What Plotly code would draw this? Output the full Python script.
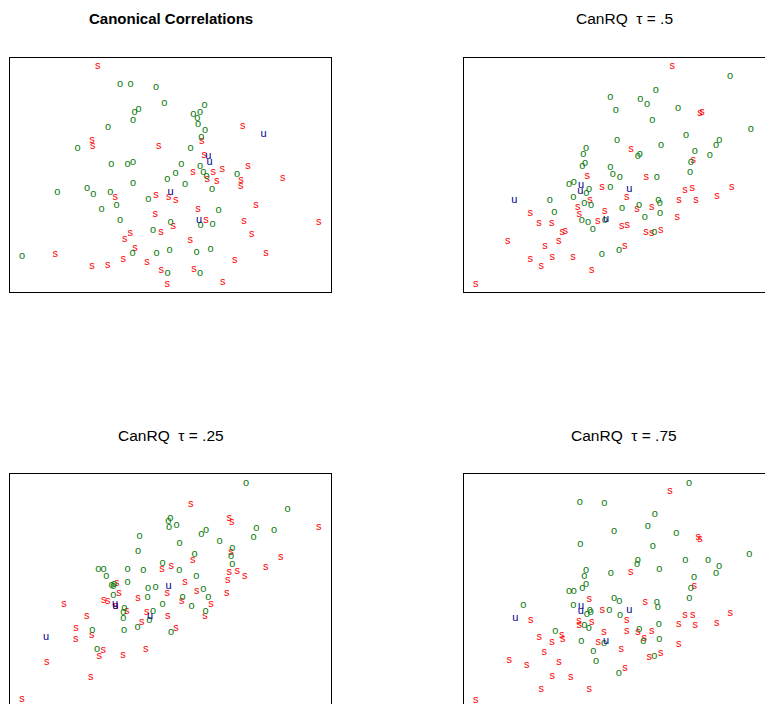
import plotly.graph_objects as go

# ---------------- data (canonical variate scores) ----------------
# Panel 1: Canonical Correlations
cc_s_x = [263, 698, 246, 248, 446, 575, 583, 714, 549, 610, 637, 818, 592, 620, 693, 692, 316, 438, 476, 497, 738, 564,
          436, 588, 490, 702, 926, 361, 344, 453, 725, 541, 375, 340, 136, 411, 768, 674, 246, 293, 454, 552, 472, 638]
cc_s_y = [677, 499, 456, 438, 439, 454, 411, 379, 359, 361, 368, 343, 339, 332, 336, 319, 284, 290, 286, 275, 261, 249,
          233, 215, 197, 212, 211, 176, 160, 179, 174, 155, 131, 100, 113, 90, 116, 95, 77, 80, 67, 68, 25, 29]
cc_o_x = [330, 362, 438, 463, 584, 386, 374, 550, 570, 562, 369, 564, 585, 294, 574, 203, 542, 353, 369, 304, 514, 570,
          580, 590, 497, 472, 681, 369, 525, 606, 142, 231, 250, 301, 415, 320, 275, 626, 330, 482, 572, 608, 429, 36,
          368, 440, 479, 560, 602, 473, 570]
cc_o_y = [623, 623, 614, 566, 560, 548, 539, 533, 539, 523, 515, 503, 485, 494, 466, 431, 431, 385, 389, 383, 383, 377,
          359, 347, 356, 338, 353, 326, 324, 308, 299, 311, 293, 299, 278, 260, 248, 246, 215, 210, 200, 203, 185, 107,
          116, 117, 125, 119, 128, 56, 56]
cc_u_x = [761, 595, 599, 482, 567]
cc_u_y = [475, 407, 391, 301, 217]

# Panel 2: CanRQ tau = .5
q50_s_x = [626, 709, 715, 502, 689, 924, 371, 548, 415, 664, 686, 804, 489, 379, 646, 697, 760, 200, 342, 347, 423, 520,
           564, 641, 226, 264, 474, 491, 547, 564, 591, 296, 305, 132, 285, 244, 483, 200, 266, 328, 233, 384, 36, 402]
q50_s_y = [677, 537, 539, 428, 397, 392, 347, 344, 314, 306, 311, 314, 284, 277, 275, 275, 287, 238, 254, 234, 244, 250,
           255, 224, 208, 206, 197, 200, 179, 177, 187, 179, 182, 154, 154, 137, 139, 100, 106, 104, 77, 65, 25, 212]
q50_o_x = [799, 576, 440, 530, 550, 456, 643, 566, 861, 667, 460, 592, 767, 757, 367, 693, 359, 528, 522, 738, 364, 356,
           681, 440, 447, 468, 579, 679, 316, 330, 440, 376, 368, 329, 258, 584, 588, 362, 382, 526, 475, 272, 589, 543,
           354, 373, 423, 387, 572, 414, 466]
q50_o_y = [647, 607, 584, 580, 563, 547, 551, 515, 490, 470, 455, 440, 455, 440, 431, 422, 413, 413, 407, 410, 386, 377,
           389, 374, 354, 344, 344, 359, 325, 329, 314, 308, 297, 284, 275, 277, 268, 266, 260, 261, 251, 241, 237, 224,
           217, 211, 217, 190, 180, 113, 127]
q50_u_x = [152, 352, 350, 497, 427]
q50_u_y = [275, 320, 302, 308, 220]

# Panel 3: CanRQ tau = .25
q25_s_x = [542, 658, 665, 926, 812, 767, 663, 548, 456, 484, 658, 682, 704, 653, 525, 320, 327, 281, 293, 384, 472, 560,
           515, 650, 603, 162, 317, 350, 410, 473, 585, 230, 395, 198, 498, 245, 197, 280, 268, 339, 407, 110, 242, 36]
q25_s_y = [611, 570, 557, 544, 454, 424, 469, 445, 418, 427, 407, 410, 397, 383, 379, 375, 344, 325, 322, 329, 344, 350,
           322, 346, 312, 313, 305, 292, 288, 275, 275, 275, 258, 239, 240, 220, 206, 175, 155, 158, 178, 139, 92, 26]
q25_o_x = [708, 833, 481, 475, 477, 500, 588, 574, 739, 792, 731, 389, 629, 509, 384, 554, 667, 663, 667, 458, 508, 265,
           281, 353, 400, 289, 353, 559, 305, 310, 312, 414, 437, 580, 310, 413, 518, 595, 458, 545, 343, 340, 429, 587,
           340, 418, 383, 342, 483, 247, 261]
q25_o_y = [676, 598, 569, 562, 542, 548, 535, 521, 539, 533, 514, 515, 500, 494, 470, 461, 479, 455, 433, 434, 415, 418,
           418, 418, 415, 395, 379, 395, 370, 367, 373, 359, 362, 358, 339, 332, 332, 332, 312, 305, 299, 289, 292, 290,
           269, 263, 242, 235, 228, 234, 176]
q25_u_x = [108, 315, 316, 420, 476]
q25_u_y = [212, 312, 305, 275, 365]

# Panel 4: CanRQ tau = .75
q75_s_x = [619, 704, 709, 501, 692, 924, 377, 545, 416, 664, 687, 800, 489, 201, 346, 347, 384, 645, 695, 759, 421, 489,
           523, 564, 542, 227, 294, 297, 265, 404, 645, 473, 557, 591, 242, 137, 286, 189, 484, 266, 321, 233, 377, 36]
q75_s_y = [652, 512, 508, 407, 365, 350, 328, 319, 295, 278, 278, 284, 265, 265, 260, 248, 258, 251, 248, 254, 227, 230,
           227, 230, 210, 212, 220, 207, 199, 197, 191, 177, 152, 165, 167, 145, 137, 128, 120, 97, 92, 58, 58, 25]
q75_o_x = [676, 348, 422, 573, 552, 451, 638, 350, 567, 857, 522, 520, 665, 733, 766, 757, 367, 362, 587, 441, 691, 367,
           356, 681, 316, 330, 451, 467, 677, 579, 582, 179, 329, 437, 378, 369, 469, 585, 362, 375, 527, 275, 587, 539,
           353, 421, 389, 397, 572, 465, 381]
q75_o_y = [676, 617, 614, 581, 545, 530, 524, 491, 487, 461, 444, 433, 444, 443, 425, 404, 413, 395, 416, 404, 392, 371,
           359, 359, 350, 350, 330, 322, 329, 317, 303, 308, 308, 295, 293, 283, 278, 253, 248, 240, 237, 230, 208, 200,
           200, 195, 172, 140, 155, 105, 288]
q75_u_x = [155, 352, 351, 497, 427]
q75_u_y = [269, 305, 290, 293, 202]

panel_titles = ["<b>Canonical Correlations</b>",
                "CanRQ\u00a0\u00a0\u03c4 = .5",
                "CanRQ\u00a0\u00a0\u03c4 = .25",
                "CanRQ\u00a0\u00a0\u03c4 = .75"]

panels = [
    (cc_s_x, cc_s_y, cc_o_x, cc_o_y, cc_u_x, cc_u_y),
    (q50_s_x, q50_s_y, q50_o_x, q50_o_y, q50_u_x, q50_u_y),
    (q25_s_x, q25_s_y, q25_o_x, q25_o_y, q25_u_x, q25_u_y),
    (q75_s_x, q75_s_y, q75_o_x, q75_o_y, q75_u_x, q75_u_y),
]

# ---------------- figure ----------------
# the page places the figure 8 px in from the top-left corner, so it is sized to
# end exactly at the window edge
OFF = 8
W, H = 773 - OFF, 704 - OFF
RED, GREEN, BLUE = "#ff0000", "#0b7a0b", "#00008b"
FONT = "Liberation Sans, Arial, sans-serif"

fig = go.Figure()


def fx(px):
    return (px - OFF) / W


def fy(py):
    return 1 - (py - OFF) / H


xdom_left = [fx(10), fx(331)]
xdom_right = [fx(463.7), 1.0]
ydom_top = [fy(292.3), fy(58.3)]
ydom_bot = [0.0, fy(474.3)]

specs = [
    (xdom_left, ydom_top, [0, 963], [0, 702], dict(mirror=True), dict(mirror=True)),
    (xdom_right, ydom_top, [0, 927.9], [0, 702], dict(mirror=True), dict(mirror=False)),
    (xdom_left, ydom_bot, [0, 963], [12.9, 702], dict(side="top", mirror=False), dict(mirror=True)),
    (xdom_right, ydom_bot, [0, 927.9], [12.9, 702], dict(side="top", mirror=False), dict(mirror=False)),
]

for i, ((sx, sy, ox, oy, ux, uy), (xd, yd, xr, yr, xl, yl)) in enumerate(zip(panels, specs)):
    n = "" if i == 0 else str(i + 1)
    xa, ya = "x" + n, "y" + n
    for xs, ys, lab, col in ((sx, sy, "s", RED), (ox, oy, "o", GREEN), (ux, uy, "u", BLUE)):
        fig.add_trace(go.Scatter(
            x=xs, y=ys, mode="text", text=[lab] * len(xs),
            textposition="middle center",
            textfont=dict(family=FONT, size=11, color=col),
            xaxis=xa, yaxis=ya, showlegend=False, hoverinfo="skip",
        ))
    common = dict(showgrid=False, zeroline=False, showticklabels=False, ticks="",
                  showline=True, linecolor="#000000", linewidth=1, fixedrange=True)
    fig.layout["xaxis" + n] = dict(domain=xd, range=xr, anchor=ya, **common, **xl)
    fig.layout["yaxis" + n] = dict(domain=yd, range=yr, anchor=xa, **common, **yl)

title_pos = [(fx(170.5), fy(18)), (fx(624.2), fy(18)),
             (fx(170.5), fy(435)), (fx(624.2), fy(435))]
title_size = [15, 15.5, 15.5, 15.5]
for t, (px, py), sz in zip(panel_titles, title_pos, title_size):
    fig.add_annotation(text=t, x=px, y=py, xref="paper", yref="paper",
                       xanchor="center", yanchor="middle", showarrow=False,
                       font=dict(family=FONT, size=sz, color="#000000"))

fig.update_layout(width=W, height=H, margin=dict(l=0, r=0, t=0, b=0, pad=0),
                  paper_bgcolor="white", plot_bgcolor="white")

fig.write_html("out.html")
